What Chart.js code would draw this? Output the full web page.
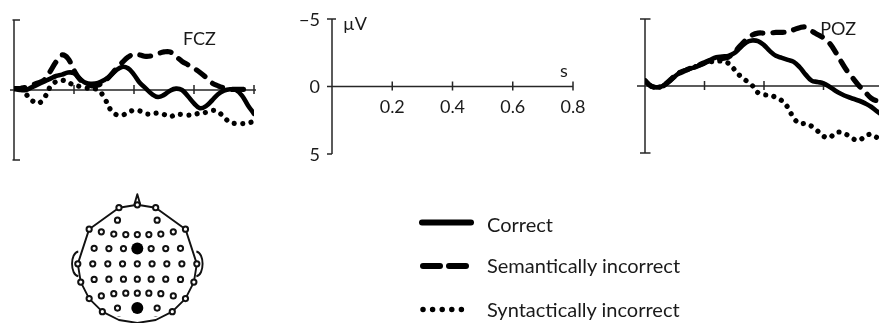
<!DOCTYPE html>
<html><head><meta charset="utf-8">
<script src="https://cdn.jsdelivr.net/npm/chart.js@4.4.1/dist/chart.umd.min.js"></script>
<style>
html,body{margin:0;padding:0;background:#fff;}
body{width:879px;height:323px;overflow:hidden;position:relative;font-family:Lato,"Open Sans",sans-serif;}
canvas{position:absolute;}
.leg{position:absolute;left:487px;font-size:20px;line-height:20px;color:#1a1a1a;white-space:nowrap;}
#legsvg{position:absolute;left:0;top:0;}
</style></head><body>
<canvas id="fcz"></canvas>
<canvas id="axisKey"></canvas>
<canvas id="poz"></canvas>
<canvas id="head"></canvas>
<svg id="legsvg" width="879" height="323"></svg>
<div id="legText"></div>
<script>
// ---------- data ----------
const timeS = [0,0.02,0.04,0.06,0.08,0.1,0.12,0.14,0.16,0.18,
  0.2,0.22,0.24,0.26,0.28,0.3,0.32,0.34,0.36,0.38,
  0.4,0.42,0.44,0.46,0.48,0.5,0.52,0.54,0.56,0.58,
  0.6,0.62,0.64,0.66,0.68,0.7,0.72,0.74,0.76,0.78,0.8];

const fczCorrect = [-0.1,0.0,0.0,-0.2,-0.4,-0.6,-0.8,-1.0,-1.1,-1.25,
  -1.2,-0.8,-0.5,-0.45,-0.5,-0.7,-1.0,-1.4,-1.65,-1.55,
  -1.1,-0.5,-0.1,0.3,0.5,0.35,0.05,-0.1,0.0,0.45,
  0.95,1.3,1.15,0.75,0.3,0.05,-0.05,0.0,0.4,1.1,1.7];
const fczSemantic = [-0.1,-0.1,-0.2,-0.35,-0.5,-0.7,-1.3,-2.0,-2.5,-2.25,
  -1.4,-0.75,-0.45,-0.3,-0.35,-0.6,-1.0,-1.5,-1.95,-2.35,
  -2.55,-2.5,-2.4,-2.45,-2.6,-2.72,-2.72,-2.4,-2.05,-1.8,
  -1.55,-1.25,-0.9,-0.5,-0.3,-0.15,-0.05,-0.05,-0.05,0.0,null];
const fczSyntactic = [-0.1,-0.2,0.3,0.75,0.95,0.6,-0.2,-0.6,-0.7,-0.55,
  -0.35,-0.25,-0.15,-0.1,0.0,0.5,1.35,1.75,1.8,1.6,
  1.45,1.5,1.7,1.7,1.65,1.75,1.9,1.75,1.75,1.8,
  1.75,1.65,1.6,1.45,1.55,1.95,2.3,2.4,2.4,2.35,2.25];

const pozCorrect = [-0.4,0.0,0.1,0.0,-0.3,-0.7,-1.05,-1.2,-1.35,-1.5,
  -1.7,-1.95,-2.15,-2.2,-2.25,-2.45,-2.85,-3.25,-3.4,-3.35,
  -3.05,-2.6,-2.25,-2.1,-1.95,-1.8,-1.4,-0.85,-0.4,-0.3,
  -0.2,0.05,0.35,0.6,0.8,0.95,1.1,1.3,1.55,1.9,2.2];
const pozSemantic = [-0.4,0.0,0.1,0.0,-0.35,-0.75,-1.0,-1.2,-1.4,-1.55,
  -1.75,-1.9,-2.0,-2.05,-2.15,-2.5,-3.0,-3.45,-3.8,-3.95,
  -3.95,-3.95,-4.0,-4.0,-4.05,-4.2,-4.35,-4.4,-4.1,-3.85,
  -3.6,-3.2,-2.55,-1.8,-1.1,-0.55,0.0,0.45,0.9,1.1,1.1];
const pozSyntactic = [-0.4,0.0,0.1,0.0,-0.35,-0.75,-1.05,-1.2,-1.35,-1.55,
  -1.7,-1.8,-1.85,-1.85,-1.7,-1.25,-0.75,-0.4,-0.05,0.5,
  0.65,0.7,0.85,1.1,1.6,2.4,2.8,2.8,3.0,3.35,
  3.75,3.85,3.5,3.45,3.65,3.95,4.05,3.75,3.6,3.85,4.1];

const seriesNames = ['Correct','Semantically incorrect','Syntactically incorrect'];
const electrodeLabels = ['FCZ','POZ'];
const xTickValues = [0.2,0.4,0.6,0.8];
const xTickLabels = ['0.2','0.4','0.6','0.8'];
const yTickValues = [-5,0,5];
const yTickLabels = ['\u22125','0','5'];
const yUnitLabel = '\u00b5V';
const xUnitLabel = 's';

// head map electrodes (units: relative to head centre)
const perimeterX = [0,19.9,52.2,64.5,61.3,52.2,37.9,19.9,0,-19.9,-37.9,-52.2,-61.3,-64.5,-52.2,-19.9];
const perimeterY = [-64.5,-61.3,-37.9,0,19.9,37.9,52.2,61.3,64.5,61.3,52.2,37.9,19.9,0,-37.9,-61.3];
const innerX = [-21.5,21.5,
  -39,-25.5,-12.5,0,12.5,25.5,39,
  -46.8,-30.8,-15,15,30.8,46.8,
  -48.3,-32,-16,0,16,32,48.3,
  -46.8,-30.8,-15,0,15,30.8,46.8,
  -39,-25.5,-12.5,0,12.5,25.5,39,
  -21.5,21.5];
const innerY = [-47.7,-47.7,
  -35,-32.5,-32,-32,-32,-32.5,-35,
  -17,-16.7,-16.7,-16.7,-16.7,-17,
  0,0,0,0,0,0,0,
  17,16.7,16.7,16.7,16.7,16.7,17,
  35,32.5,32,32,32,32.5,35,
  48.3,48.3];
const selectedX = [0,0];
const selectedY = [-16.7,48.3];

// ---------- helpers ----------
const INK = '#000';
const AXIS = '#262626';
const TXT = '#1a1a1a';
Chart.defaults.font.family = 'Lato';

function place(id, x0, x1, yTop, yBot, pad) {
  const c = document.getElementById(id);
  c.style.left = (x0 - pad.left) + 'px';
  c.style.top = (yTop - pad.top) + 'px';
  c.width = Math.round(x1 - x0 + pad.left + pad.right);
  c.height = Math.round(yBot - yTop + pad.top + pad.bottom);
  c.style.width = c.width + 'px';
  c.style.height = c.height + 'px';
  return c;
}

const erpAxes = {
  id: 'erpAxes',
  beforeDatasetsDraw(chart, args, o) {
    const {ctx} = chart; const x = chart.scales.x, y = chart.scales.y;
    const x0 = x.getPixelForValue(0);
    const yT = y.getPixelForValue(yTickValues[0]);
    const yB = y.getPixelForValue(yTickValues[2]);
    const y0 = y.getPixelForValue(0);
    const xe = x.getPixelForValue(xTickValues[xTickValues.length-1]);
    ctx.save();
    ctx.strokeStyle = AXIS; ctx.lineWidth = 1.5; ctx.lineCap = 'butt';
    ctx.beginPath();
    ctx.moveTo(x0, yT); ctx.lineTo(x0, yB);
    ctx.moveTo(x0 - o.capTop[0], yT); ctx.lineTo(x0 + o.capTop[1], yT);
    ctx.moveTo(x0 - o.capBot[0], yB); ctx.lineTo(x0 + o.capBot[1], yB);
    ctx.moveTo(x0 - o.xPre, y0); ctx.lineTo(xe + o.xPost, y0);
    xTickValues.forEach(v => { const p = x.getPixelForValue(v); ctx.moveTo(p, y0 - 5); ctx.lineTo(p, y0 + 4); });
    ctx.stroke();
    ctx.restore();
  },
  afterDatasetsDraw(chart, args, o) {
    const {ctx} = chart; const x = chart.scales.x, y = chart.scales.y;
    ctx.save();
    ctx.fillStyle = TXT;
    ctx.textBaseline = 'alphabetic';
    if (o.title) {
      ctx.font = '18px Lato';
      ctx.textAlign = 'left';
      ctx.fillText(o.title.text, x.getPixelForValue(o.title.t), y.getPixelForValue(o.title.v));
    }
    if (o.labels) {
      const x0 = x.getPixelForValue(0);
      ctx.font = '18px Lato';
      ctx.textAlign = 'right';
      yTickValues.forEach((v, i) => ctx.fillText(yTickLabels[i], x0 - 12, y.getPixelForValue(v) + 6.5));
      ctx.textAlign = 'center';
      const y0 = y.getPixelForValue(0);
      xTickValues.forEach((v, i) => ctx.fillText(xTickLabels[i], x.getPixelForValue(v), y0 + 26));
      ctx.textAlign = 'left';
      ctx.fillText(yUnitLabel, x0 + 11, y.getPixelForValue(yTickValues[0]) + 11);
      ctx.textAlign = 'center';
      ctx.fillText(xUnitLabel, x.getPixelForValue(xTickValues[xTickValues.length-1]) - 9, y0 - 10);
    }
    ctx.restore();
  }
};

function seriesData(vals) { return timeS.map((t, i) => ({x: t, y: vals[i]})); }

function lineSets(correct, semantic, syntactic) {
  return [
    {label: seriesNames[2], data: seriesData(syntactic), borderColor: INK, borderWidth: 5.2,
      borderDash: [0.01, 8.4], borderCapStyle: 'round', borderJoinStyle: 'round', tension: 0.4, pointRadius: 0},
    {label: seriesNames[1], data: seriesData(semantic), borderColor: INK, borderWidth: 5.2,
      borderDash: [11, 10], borderCapStyle: 'round', borderJoinStyle: 'round', tension: 0.4, pointRadius: 0},
    {label: seriesNames[0], data: seriesData(correct), borderColor: INK, borderWidth: 4.6,
      borderCapStyle: 'round', borderJoinStyle: 'round', tension: 0.4, pointRadius: 0}
  ];
}

function baseOptions(pad, axesOpts) {
  return {
    responsive: false, animation: false, events: [],
    layout: {padding: pad},
    scales: {
      x: {type: 'linear', min: 0, max: 0.8, display: false},
      y: {type: 'linear', min: -5, max: 5, reverse: true, display: false}
    },
    plugins: {legend: {display: false}, tooltip: {enabled: false}, erpAxes: axesOpts}
  };
}

// FCZ panel
const padF = {left: 10, right: 10, top: 10, bottom: 10};
place('fcz', 14, 254, 20, 160, padF);
new Chart(document.getElementById('fcz'), {
  type: 'line',
  data: {datasets: lineSets(fczCorrect, fczSemantic, fczSyntactic)},
  options: baseOptions(padF, {capTop: [1.5, 6], capBot: [1.5, 6], xPre: 4, xPost: 2,
    title: {text: electrodeLabels[0], t: 0.563, v: -3.2}}),
  plugins: [erpAxes]
});

// axis key panel
const padK = {left: 48, right: 20, top: 16, bottom: 14};
place('axisKey', 332, 573, 19, 154, padK);
new Chart(document.getElementById('axisKey'), {
  type: 'line',
  data: {datasets: []},
  options: baseOptions(padK, {capTop: [5, 4], capBot: [5, 0], xPre: 5, xPost: 0, labels: true}),
  plugins: [erpAxes]
});

// POZ panel
const padP = {left: 10, right: 10, top: 10, bottom: 10};
place('poz', 645, 883, 19, 152.5, padP);
new Chart(document.getElementById('poz'), {
  type: 'line',
  data: {datasets: lineSets(pozCorrect, pozSemantic, pozSyntactic)},
  options: baseOptions(padP, {capTop: [5, 5.5], capBot: [5, 5.5], xPre: 8, xPost: 2,
    title: {text: electrodeLabels[1], t: 0.589, v: -3.8}}),
  plugins: [erpAxes]
});

// head map
const headOutline = {
  id: 'headOutline',
  beforeDatasetsDraw(chart) {
    const {ctx} = chart; const x = chart.scales.x, y = chart.scales.y;
    const X = v => x.getPixelForValue(v), Y = v => y.getPixelForValue(v);
    ctx.save();
    ctx.strokeStyle = '#111'; ctx.lineWidth = 1.9; ctx.lineJoin = 'round';
    ctx.beginPath();
    perimeterX.forEach((px, i) => { if (i === 0) ctx.moveTo(X(px), Y(perimeterY[i])); else ctx.lineTo(X(px), Y(perimeterY[i])); });
    ctx.closePath();
    // nose
    ctx.moveTo(X(-3.5), Y(-63.8)); ctx.lineTo(X(0), Y(-76)); ctx.lineTo(X(3.5), Y(-63.8));
    // ears
    ctx.moveTo(X(-64), Y(-13.5)); ctx.bezierCurveTo(X(-73), Y(-12), X(-73), Y(12), X(-64), Y(13.5));
    ctx.moveTo(X(64), Y(-13.5)); ctx.bezierCurveTo(X(73), Y(-12), X(73), Y(12), X(64), Y(13.5));
    ctx.stroke();
    ctx.restore();
  }
};
const padH = {left: 0, right: 0, top: 0, bottom: 0};
const headCanvas = document.getElementById('head');
headCanvas.style.left = '60px'; headCanvas.style.top = '180px';
headCanvas.width = 155; headCanvas.height = 143;
headCanvas.style.width = '155px'; headCanvas.style.height = '143px';
new Chart(headCanvas, {
  type: 'scatter',
  data: {datasets: [
    {data: perimeterX.map((v, i) => ({x: v, y: perimeterY[i]})), pointRadius: 2.6, pointBorderWidth: 2,
      pointBorderColor: '#111', pointBackgroundColor: '#fff'},
    {data: innerX.map((v, i) => ({x: v, y: innerY[i]})), pointRadius: 2.6, pointBorderWidth: 2,
      pointBorderColor: '#111', pointBackgroundColor: '#fff'},
    {data: selectedX.map((v, i) => ({x: v, y: selectedY[i]})), pointRadius: 6, pointBorderWidth: 0,
      pointBorderColor: '#000', pointBackgroundColor: '#000'}
  ]},
  options: {
    responsive: false, animation: false, events: [],
    layout: {padding: padH},
    scales: {
      x: {type: 'linear', min: -77.3, max: 77.7, display: false},
      y: {type: 'linear', min: -85, max: 58, reverse: true, display: false}
    },
    plugins: {legend: {display: false}, tooltip: {enabled: false}}
  },
  plugins: [headOutline]
});

// legend
const legendRows = [231.7, 273.3, 316.7];
const svg = document.getElementById('legsvg');
const NS = 'http://www.w3.org/2000/svg';
function sl(x1, y1, x2, y2, w, dash) {
  const l = document.createElementNS(NS, 'line');
  l.setAttribute('x1', x1); l.setAttribute('y1', y1); l.setAttribute('x2', x2); l.setAttribute('y2', y2);
  l.setAttribute('stroke', '#000'); l.setAttribute('stroke-width', w); l.setAttribute('stroke-linecap', 'round');
  if (dash) l.setAttribute('stroke-dasharray', dash);
  svg.appendChild(l);
}
sl(422, 222.5, 471, 222.5, 6);
sl(423, 266, 440, 266, 6); sl(449, 266, 466, 266, 6);
sl(423, 309.5, 471, 309.5, 5.5, '0 9.6');
const lt = document.getElementById('legText');
seriesNames.forEach((n, i) => {
  const d = document.createElement('div');
  d.className = 'leg';
  d.style.top = (legendRows[i] - 18) + 'px';
  d.textContent = n;
  lt.appendChild(d);
});
</script>
</body></html>
